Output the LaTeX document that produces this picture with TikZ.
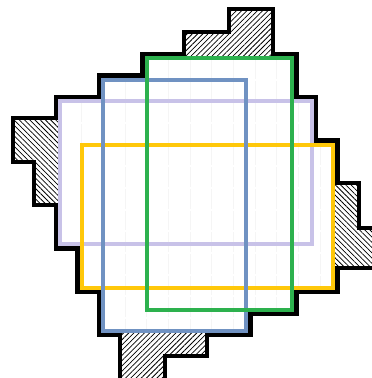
\documentclass[tikz,border=0pt]{standalone}
\usepackage{tikz}
\usetikzlibrary{patterns.meta}
\usepackage{xcolor}

\definecolor{boxlav}{HTML}{C8C2E8}
\definecolor{boxyel}{HTML}{FFC80A}
\definecolor{boxblue}{HTML}{7092C2}
\definecolor{boxgreen}{HTML}{2DB14E}

\begin{document}
\begin{tikzpicture}[
      x=1pt, y=-1pt,
      outline/.style={draw=black, line width=4.4pt, line join=miter},
      box/.style={draw=#1, line width=3.7pt},
      hatchne/.style={pattern={Lines[angle=45, distance=3.7pt, line width=0.75pt]}},
      hatchnw/.style={pattern={Lines[angle=-45, distance=3.7pt, line width=0.75pt]}},
      gridline/.style={draw=black!4, line width=1pt, dash pattern=on 19.67pt off 2pt, dash phase=20.67pt}
    ]
    \useasboundingbox (0,0) rectangle (372,378);

    \fill[hatchne] (184,32) -- (229,32) -- (229,9) -- (273,9) -- (273,58) -- (184,58) -- cycle;
    \fill[hatchnw] (13,118) -- (60,118) -- (60,205) -- (34,205) -- (34,162) -- (13,162) -- cycle;
    \fill[hatchnw] (333,183) -- (359,183) -- (359,228) -- (376,228) -- (376,268) -- (333,268) -- cycle;
    \fill[hatchne] (120,331) -- (207,331) -- (207,356) -- (165,356) -- (165,382) -- (120,382) -- cycle;

    \begin{scope}
      \clip (60,101.3) rectangle (311.7,244.3) (81.7,144.7) rectangle (333.3,287.7)
            (103.3,79.7) rectangle (246.3,331) (146.7,58) rectangle (292.3,309.7);
      \foreach \k in {1,...,12}
        \draw[gridline] ({60+21.67*\k},58) -- ({60+21.67*\k},332);
    \end{scope}

    \foreach \c/\xa/\ya/\xb/\yb in {boxlav/60/101.3/311.7/244.3, boxyel/81.7/144.7/333.3/287.7,
                                    boxblue/103.3/79.7/246.3/331, boxgreen/146.7/58/292.3/309.7}
      \draw[box=\c] (\xa,\ya) rectangle (\xb,\yb);

    \draw[outline] (55.8,97) -- (99,97) -- (99,75.5) -- (142.5,75.5) -- (142.5,53.8) -- (184,53.8)
      -- (184,32) -- (229,32) -- (229,9) -- (273,9) -- (273,53.8) -- (296.5,53.8) -- (296.5,97)
      -- (316,97) -- (316,140.5) -- (337.5,140.5) -- (337.5,183) -- (359,183) -- (359,228)
      -- (376,228) -- (376,268) -- (337.5,268) -- (337.5,292) -- (296.5,292) -- (296.5,314)
      -- (250.5,314) -- (250.5,335.2) -- (207,335.2) -- (207,356) -- (165,356) -- (165,382)
      -- (120,382) -- (120,335.2) -- (99,335.2) -- (99,292) -- (77.5,292) -- (77.5,248.5)
      -- (55.8,248.5) -- (55.8,205) -- (34,205) -- (34,162) -- (13,162) -- (13,118)
      -- (55.8,118) -- cycle;
  \end{tikzpicture}
\end{document}
